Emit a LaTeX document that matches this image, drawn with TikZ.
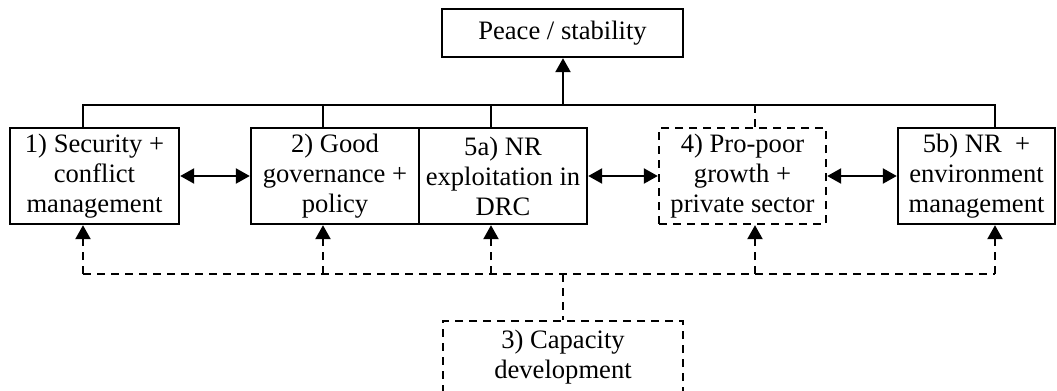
\documentclass[tikz,border=0pt]{standalone}
\usepackage{fontspec}
\setmainfont{Liberation Serif}
\usetikzlibrary{arrows.meta,calc}

\begin{document}
\begin{tikzpicture}[x=0.5pt,y=-0.5pt,
			box/.style={draw=black,line width=1.2pt,inner sep=0pt,align=center,font=\fontsize{13.3}{15}\selectfont},
			dbox/.style={box,dash pattern=on 4pt off 3pt},
			link/.style={black,line width=1.2pt},
			dlink/.style={link,dash pattern=on 4pt off 3pt},
			tip/.style={-{Triangle[length=7pt,width=7.5pt]}},
			both/.style={{Triangle[length=7pt,width=7.5pt]}-{Triangle[length=7pt,width=7.5pt]}}]
		\useasboundingbox (0,0) rectangle (1057,391);
		\path 	(562.5,33) 	node 	(peace) [box, minimum width=120.5pt, minimum height=24pt] {Peace / stability}
		        (94.5,176) 	node 	(sec) [box, minimum width=84.5pt, minimum height=48pt] {1) Security +\\conflict\\management}
		        (335,176) 	node 	(gov) [box, minimum width=84pt, minimum height=48pt] {2) Good\\governance +\\policy}
		        (503,176) 	node 	(nrx) [box, minimum width=84pt, minimum height=48pt] {5a) NR\\exploitation in\\DRC}
		        (742.5,176) node 	(grow) [dbox, minimum width=83.5pt, minimum height=48pt] {4) Pro-poor\\growth +\\private sector}
		        (976.5,176) node 	(nre) [box, minimum width=78.5pt, minimum height=48pt] {5b) NR \ +\\environment\\management}
		        (563,357) 	node 	(cap) [dbox, minimum width=120pt, minimum height=36pt] {3) Capacity\\development};
		\path 	(83,105) coordinate (t1) (323,105) coordinate (t2) (491,105) coordinate (t3)
		        (755,105) coordinate (t4) (995,105) coordinate (t5) (563,105) coordinate (tp)
		        (83,274) coordinate (d1) (323,274) coordinate (d2) (491,274) coordinate (d3)
		        (755,274) coordinate (d4) (995,274) coordinate (d5) (563,274) coordinate (dc);
		\draw [link] (sec.north -| t1) -- (t1) -- (t5) -- (nre.north -| t5);
		\draw [link] (gov.north -| t2) -- (t2);
		\draw [link] (nrx.north -| t3) -- (t3);
		\draw [dlink] (grow.north -| t4) -- (t4);
		\draw [link,tip] (tp) -- (peace.south -| tp);
		\draw [link,both] (sec.east) -- (gov.west);
		\draw [link,both] (nrx.east) -- (grow.west);
		\draw [link,both] (grow.east) -- (nre.west);
		\draw [dlink] (d1) -- (d5);
		\foreach \c/\n in {d1/sec,d2/gov,d3/nrx,d4/grow,d5/nre}
			\draw [dlink,tip] (\c) -- (\n.south -| \c);
		\draw [dlink] (dc) -- (cap.north);
	\end{tikzpicture}
\end{document}
